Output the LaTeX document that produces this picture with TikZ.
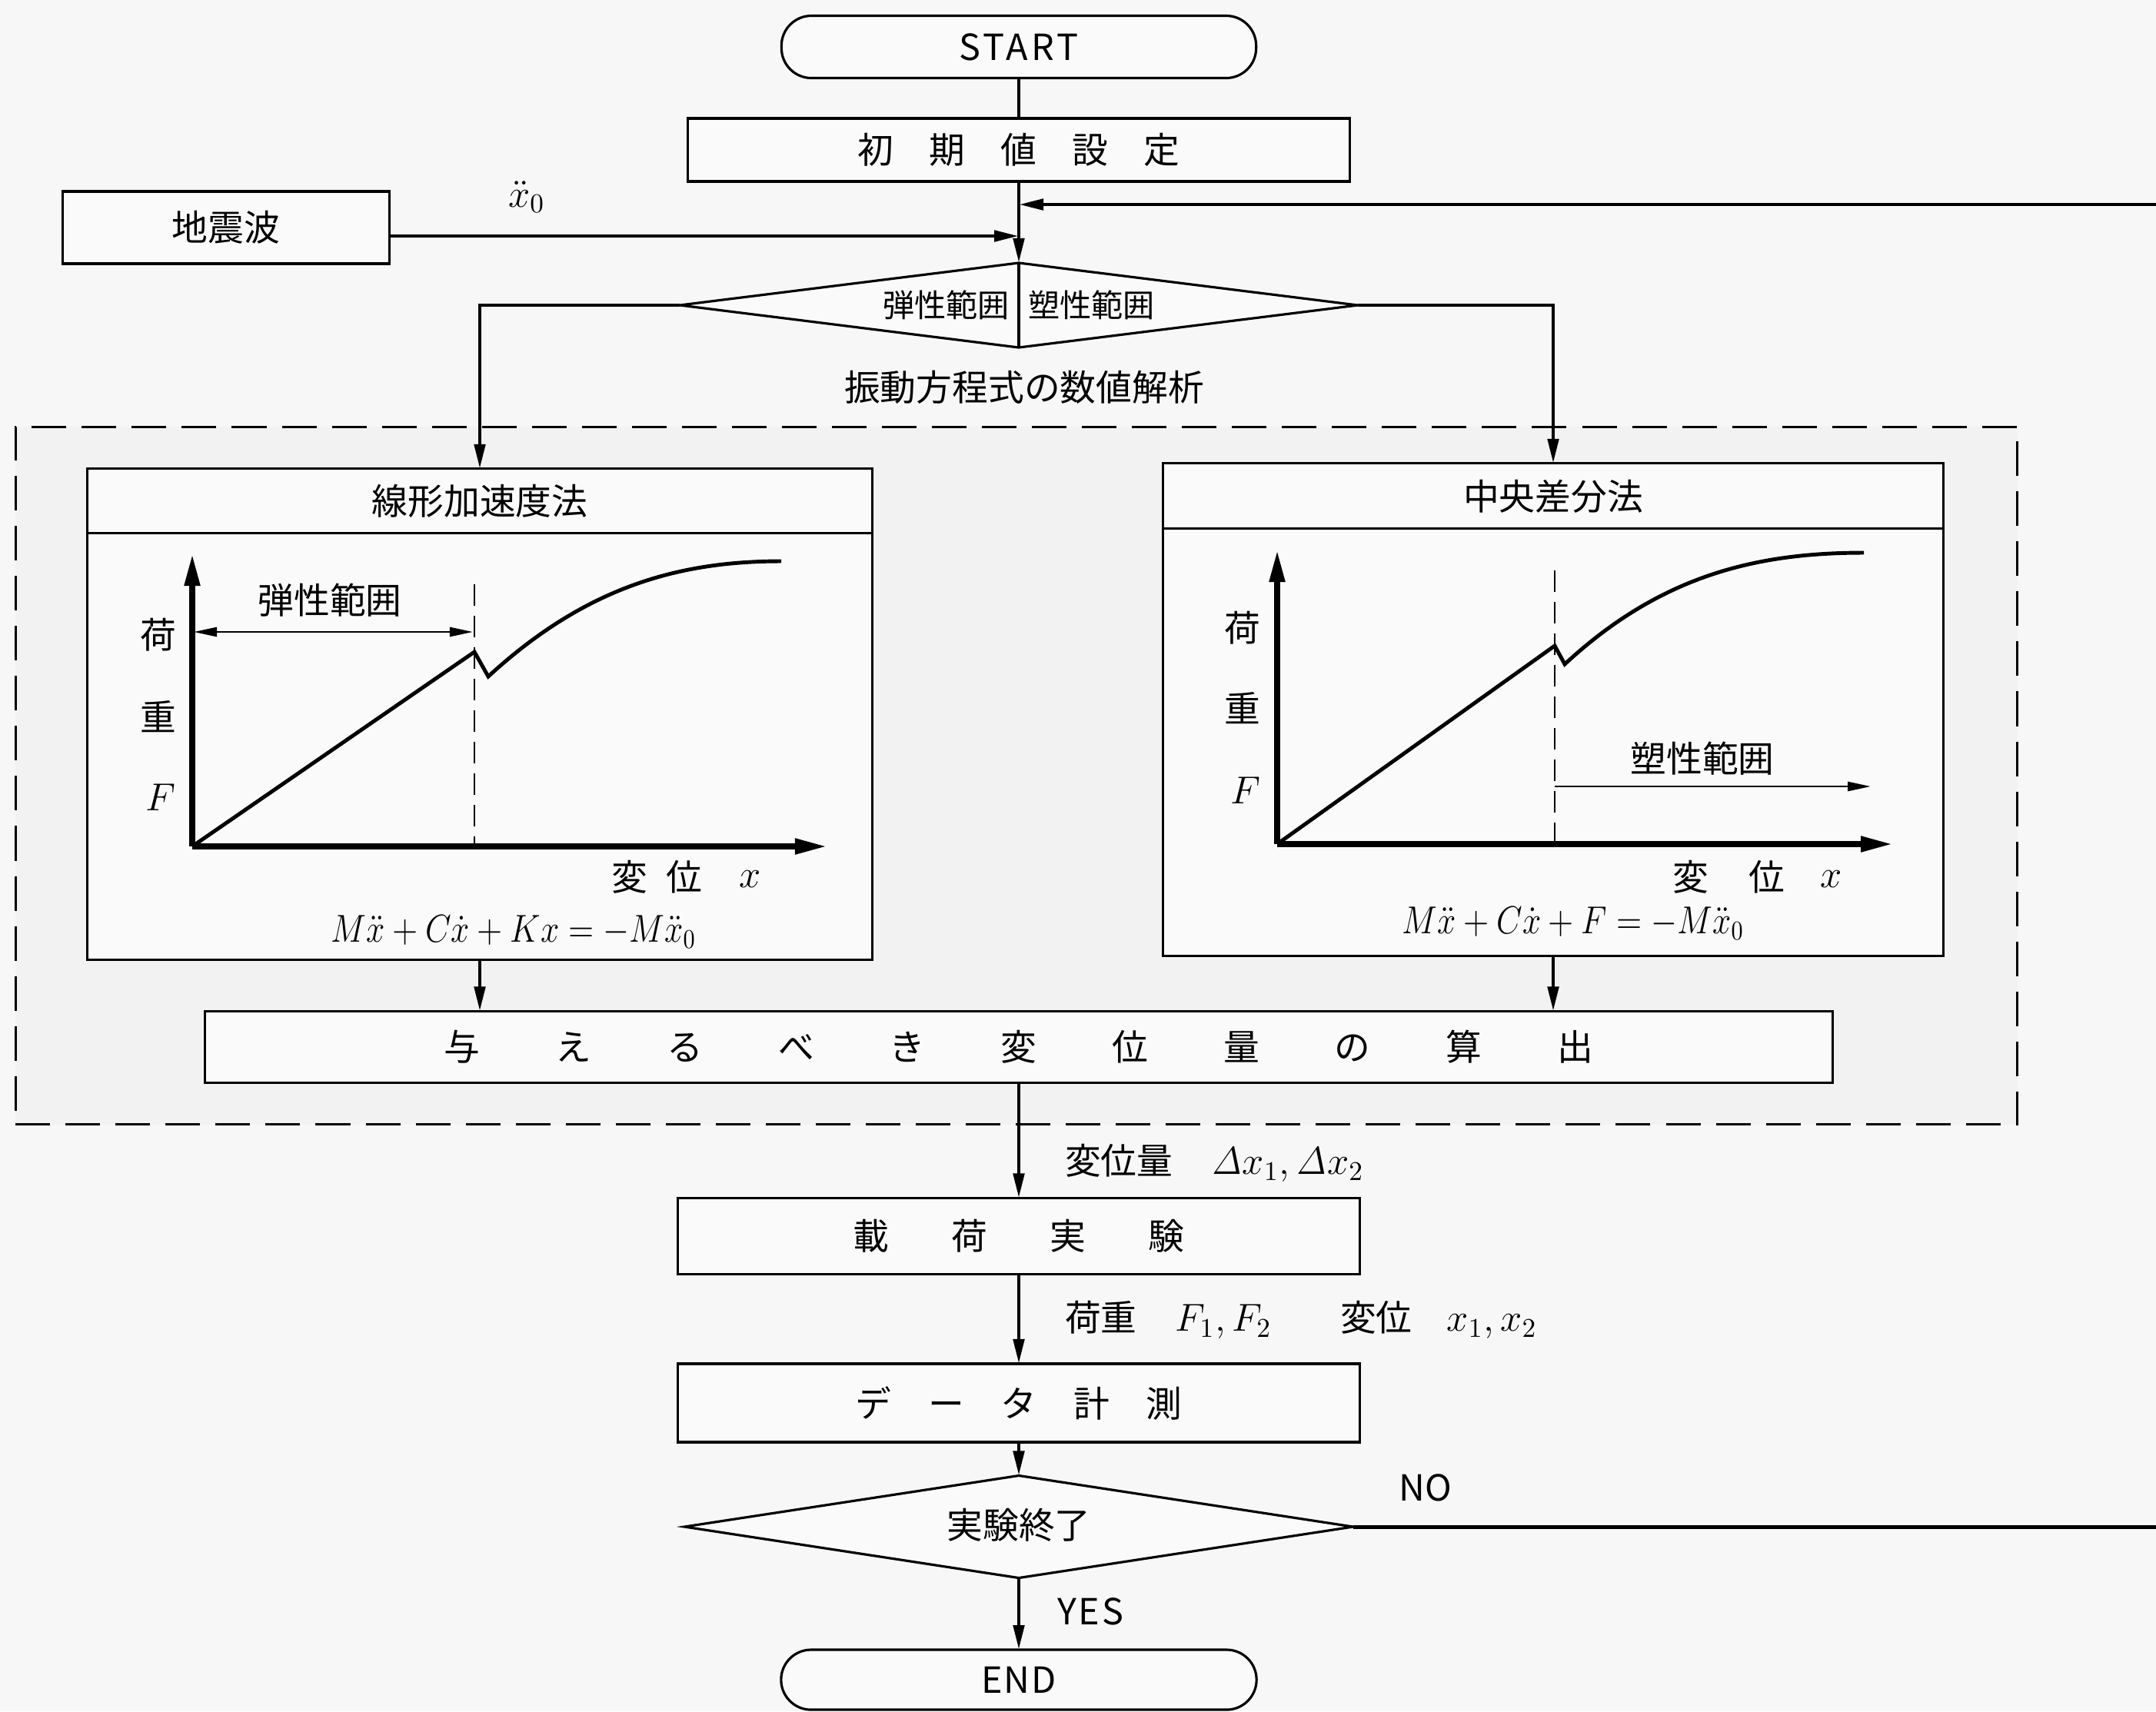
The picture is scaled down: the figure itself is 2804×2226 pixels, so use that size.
\documentclass[tikz,border=0pt]{standalone}
\usepackage[no-math]{fontspec}
\setmainfont{Noto Sans CJK JP}
\usetikzlibrary{arrows.meta,shapes.geometric,calc}
\definecolor{pagebg}{RGB}{247,247,247}
\definecolor{stagebg}{RGB}{242,242,242}
\definecolor{boxfill}{RGB}{250,250,250}
\newcommand\jfont{\fontsize{13.3pt}{16pt}\selectfont}
\newcommand\sfont{\fontsize{11.7pt}{14pt}\selectfont}
\newcommand\mfont{\fontsize{14pt}{16pt}\selectfont}
\newcommand\efont{\fontsize{14.2pt}{16pt}\selectfont}
\newcommand\pc[2]{\makebox[#1]{#2}}
\newcommand\narrow[1]{\scalebox{0.86}[1]{#1}}
\begin{document}
\begin{tikzpicture}[x=0.01cm,y=-0.01cm,
  every node/.style={font=\jfont, inner sep=0pt, outer sep=0pt},
  box/.style={draw, line width=0.9pt, rectangle, fill=boxfill},
  term/.style={draw, line width=0.9pt, rectangle, rounded corners=0.39cm, fill=boxfill},
  decision/.style={draw, line width=0.9pt, diamond, fill=boxfill},
  stagebox/.style={draw, line width=0.9pt, dash pattern=on 0.45cm off 0.2cm, fill=stagebg},
  conn/.style={line width=1.4pt, -{Triangle[length=3.2mm,width=1.4mm]}},
  plainline/.style={line width=1.4pt},
  thinline/.style={line width=0.9pt},
  axis/.style={line width=2.2pt, -{Triangle[length=4.2mm,width=1.9mm]}},
  curve/.style={line width=1.4pt, line join=miter},
  guide/.style={line width=0.8pt, dash pattern=on 0.28cm off 0.13cm},
  spanboth/.style={line width=0.8pt, {Triangle[length=3mm,width=1.2mm]}-{Triangle[length=3mm,width=1.2mm]}},
  spanright/.style={line width=0.8pt, -{Triangle[length=3mm,width=1.2mm]}},
  mathlabel/.style={font=\mfont},
  eqlabel/.style={font=\efont},
]
\path[use as bounding box] (0,0) rectangle (2804,2226);
\clip (0,0) rectangle (2804,2226);
\fill[pagebg] (0,0) rectangle (2804,2226);

% dashed analysis stage
\node[stagebox, minimum width=26.02cm, minimum height=9.07cm] (stage) at (1322,1009) {};

% main column
\node[term, minimum width=6.17cm, minimum height=0.81cm] (start) at (1325,61) {\addfontfeatures{LetterSpace=9}START};
\node[box, minimum width=8.61cm, minimum height=0.82cm] (init) at (1325,195)
  {\pc{0.93cm}{初}\pc{0.93cm}{期}\pc{0.93cm}{値}\pc{0.93cm}{設}\pc{0.93cm}{定}};
\node[box, minimum width=4.24cm, minimum height=0.94cm] (quake) at (294,296) {地震波};
\node[mathlabel] (x0) at (685,256) {$\ddot{x}_0$};
\coordinate (j2) at (1325,266);
\coordinate (j1) at (1325,307);

\node[decision, minimum width=8.81cm, minimum height=1.10cm] (dec1) at (1325,397) {};
\draw[thinline] (dec1.north) -- (dec1.south);
\node[font=\sfont, anchor=east] (elast) at (1313,397) {弾性範囲};
\node[font=\sfont, anchor=west] (plast) at (1337,397) {塑性範囲};
\node (solve) at (1332,504) {振動方程式の数値解析};

% left method box
\node[box, minimum width=10.21cm, minimum height=6.38cm] (lbox) at (624,929) {};
\draw[thinline] ($(lbox.north west)+(0,84)$) -- ($(lbox.north east)+(0,84)$);
\node (lhead) at (624,652) {線形加速度法};
\coordinate (lo) at (250,1101);
\draw[axis] (lo) -- (250,720);
\draw[axis] (lo) -- (1076,1101);
\draw[guide] (617,760) -- (617,1101);
\draw[curve] (lo) -- (617,848) -- (635,880) .. controls (760,765) and (880,730) .. (1016,730);
\draw[spanboth] (252,822) -- (615,822);
\node (lrange) at (429,781) {弾性範囲};
\node (lk) at (206,826) {荷};
\node (lj) at (206,932) {重};
\node[mathlabel] (lF) at (209,1037) {$F$};
\node (lh1) at (819,1141) {変};
\node (lh2) at (890,1141) {位};
\node[mathlabel] (lx) at (976,1144) {$x$};
\node[eqlabel] (leq) at (668,1212) {\narrow{$M\ddot{x}+C\dot{x}+Kx=-M\ddot{x}_0$}};

% right method box
\node[box, minimum width=10.15cm, minimum height=6.40cm] (rbox) at (2020,923) {};
\draw[thinline] ($(rbox.north west)+(0,85)$) -- ($(rbox.north east)+(0,85)$);
\node (rhead) at (2020,646) {中央差分法};
\coordinate (ro) at (1661,1098);
\draw[axis] (ro) -- (1661,715);
\draw[axis] (ro) -- (2462,1098);
\draw[guide] (2022,742) -- (2022,1098);
\draw[curve] (ro) -- (2022,840) -- (2035,864) .. controls (2160,748) and (2285,719) .. (2424,719);
\draw[spanright] (2022,1023) -- (2433,1023);
\node (rrange) at (2214,987) {塑性範囲};
\node (rk) at (1616,817) {荷};
\node (rj) at (1616,921) {重};
\node[mathlabel] (rF) at (1620,1028) {$F$};
\node (rh1) at (2199,1141) {変};
\node (rh2) at (2298,1141) {位};
\node[mathlabel] (rx) at (2382,1144) {$x$};
\node[eqlabel] (req) at (2046,1201) {\narrow{$M\ddot{x}+C\dot{x}+F=-M\ddot{x}_0$}};

% displacement computation
\node[box, minimum width=21.15cm, minimum height=0.93cm] (calc) at (1325,1362)
  {\pc{1.447cm}{与}\pc{1.447cm}{え}\pc{1.447cm}{る}\pc{1.447cm}{べ}\pc{1.447cm}{き}\pc{1.447cm}{変}\pc{1.447cm}{位}\pc{1.447cm}{量}\pc{1.447cm}{の}\pc{1.447cm}{算}\pc{1.447cm}{出}};

% lower column
\node[box, minimum width=8.87cm, minimum height=0.99cm] (load) at (1325,1608)
  {\pc{1.28cm}{載}\pc{1.28cm}{荷}\pc{1.28cm}{実}\pc{1.28cm}{験}};
\node[box, minimum width=8.87cm, minimum height=1.02cm] (meas) at (1325,1825)
  {\pc{0.945cm}{デ}\pc{0.945cm}{ー}\pc{0.945cm}{タ}\pc{0.945cm}{計}\pc{0.945cm}{測}};
\node[decision, minimum width=8.69cm, minimum height=1.33cm] (dec2) at (1325,1986) {};
\node (dec2text) at (1325,1984) {実験終了};
\node[term, minimum width=6.18cm, minimum height=0.78cm] (end) at (1325,2185) {\addfontfeatures{LetterSpace=4}END};

\node[anchor=west] (dlab) at (1385,1513) {変位量\hspace{0.5cm}{\mfont$\mathit{\Delta} x_1, \mathit{\Delta} x_2$}};
\node[anchor=west] (flab) at (1385,1717) {荷重\hspace{0.5cm}{\mfont$F_1, F_2$}};
\node[anchor=west] (xlab) at (1743,1717) {変位\hspace{0.45cm}{\mfont$x_1, x_2$}};
\node (no) at (1854,1935) {NO};
\node (yes) at (1418,2096) {\addfontfeatures{LetterSpace=6}YES};

% connectors
\draw[plainline] (start.south) -- (init.north);
\draw[conn] (init.south) -- (dec1.north);
\draw[conn] (quake.east |- j1) -- (j1);
\draw[conn] (dec1.west) -| (lbox.north);
\draw[conn] (dec1.east) -| (rbox.north);
\draw[conn] (lbox.south) -- (lbox.south |- calc.north);
\draw[conn] (rbox.south) -- (rbox.south |- calc.north);
\draw[conn] (calc.south) -- (load.north);
\draw[conn] (load.south) -- (meas.north);
\draw[conn] (meas.south) -- (dec2.north);
\draw[conn] (dec2.south) -- (end.north);
\coordinate (loopa) at (2900,1986);
\coordinate (loopb) at (2900,266);
\draw[conn] (dec2.east) -- (loopa) -- (loopb) -- (j2);
\end{tikzpicture}
\end{document}
